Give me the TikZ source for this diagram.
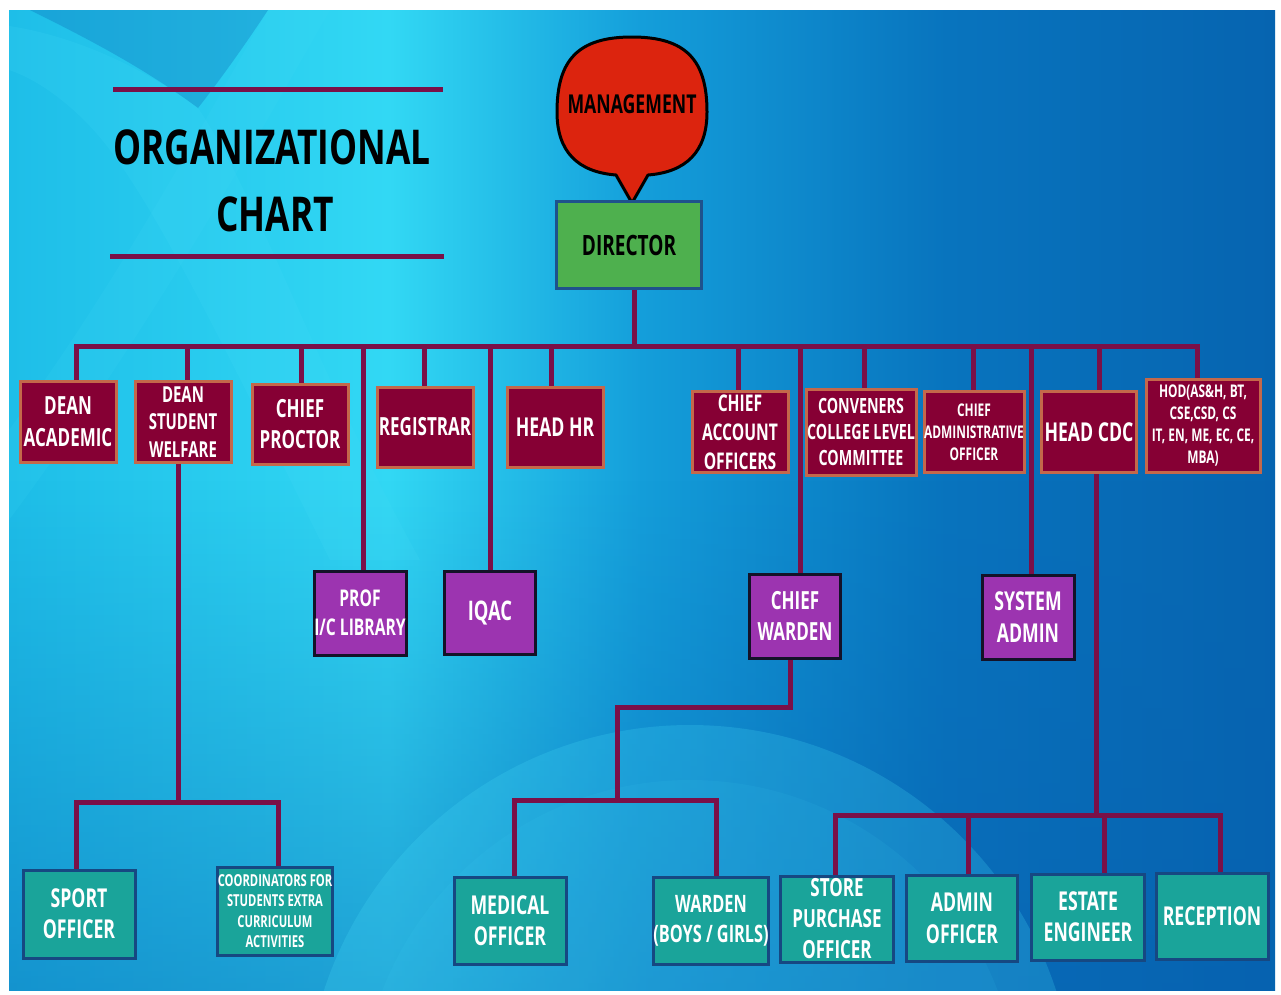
\documentclass[tikz,border=0pt]{standalone}
\usepackage{fontspec}
\newfontfamily\cf{Open Sans}[FakeStretch=0.68]
\newfontfamily\cft{Open Sans}[FakeStretch=0.735]
\usetikzlibrary{calc,fadings}
\definecolor{conncol}{RGB}{122,16,72}
\definecolor{topfill}{RGB}{134,0,52}
\definecolor{topbd}{RGB}{196,104,74}
\definecolor{midfill}{RGB}{156,52,176}
\definecolor{midbd}{RGB}{20,18,40}
\definecolor{botfill}{RGB}{26,164,154}
\definecolor{botbd}{RGB}{22,72,130}
\definecolor{dirfill}{RGB}{78,176,78}
\definecolor{dirbd}{RGB}{30,82,140}
\definecolor{mgmt}{RGB}{220,36,14}
\definecolor{bga}{RGB}{30,190,232}
\definecolor{bgb}{RGB}{50,216,244}
\definecolor{bgc}{RGB}{20,158,218}
\definecolor{bgd}{RGB}{8,116,190}
\definecolor{bge}{RGB}{6,100,176}
\definecolor{bgdark}{RGB}{8,96,176}
\definecolor{bglight}{RGB}{70,220,248}
\pgfdeclarehorizontalshading{bgshade}{100bp}{color(0bp)=(bga); color(25bp)=(bga); color(40bp)=(bgb); color(50bp)=(bgc); color(62bp)=(bgd); color(75bp)=(bge); color(100bp)=(bge)}
\newcommand\fsz[2]{\bfseries\fontsize{#1}{#2}\selectfont}
\tikzset{
  conn/.style={draw=conncol, line width=5pt, line join=miter},
  box/.style={rectangle, line width=3pt, inner sep=0pt, align=center, text=white, font=\cf\bfseries},
  toprow/.style={box, draw=topbd, fill=topfill},
  midrow/.style={box, draw=midbd, fill=midfill},
  botrow/.style={box, draw=botbd, fill=botfill},
}
\begin{document}
\begin{tikzpicture}[x=1pt,y=1pt]
\useasboundingbox (0,0) rectangle (1281,-994);
\fill[white] (0,0) rectangle (1281,-994);
\shade[shading=bgshade] (9,-10) rectangle (1275,-990);
% decorative background shapes
\begin{scope}
\clip (9,-10) rectangle (1275,-990);
\fill[bgdark, path fading=north, opacity=0.55] (9,-480) rectangle (1275,-1100);
\fill[bgdark, opacity=0.28] (30,-10) -- (268,-10) .. controls (245,-45) and (220,-80) .. (198,-108)
   .. controls (140,-65) and (80,-35) .. (30,-10) -- cycle;
\fill[bglight, opacity=0.16] (9,-26) .. controls (70,-35) and (140,-65) .. (198,-108)
   .. controls (260,-200) and (320,-380) .. (420,-560) -- (330,-560)
   .. controls (250,-400) and (170,-230) .. (110,-150) .. controls (80,-110) and (40,-80) .. (9,-70) -- cycle;
\fill[bglight, opacity=0.12] (268,-10) -- (330,-10) .. controls (250,-150) and (150,-330) .. (9,-520) -- (9,-430)
   .. controls (120,-280) and (210,-110) .. cycle;
\fill[bglight, opacity=0.22] (690,-1110) circle[radius=385];
\fill[bglight, opacity=0.08] (690,-1110) circle[radius=330];
\end{scope}

% title
\coordinate (tl1) at (113,-89); \coordinate (tr1) at (443,-89);
\coordinate (tl2) at (110,-256); \coordinate (tr2) at (444,-256);
\draw[conn] (tl1) -- (tr1);
\draw[conn] (tl2) -- (tr2);
\node[font=\cft\fsz{48}{48}, text=black] (t1) at (272,-147) {ORGANIZATIONAL};
\node[font=\cft\fsz{48}{48}, text=black] (t2) at (275,-214) {CHART};

% management bubble
\draw[fill=mgmt, draw=black, line width=3pt, line join=round]
  (648,-175) -- (632,-203) -- (616,-175)
  .. controls (578,-172) and (557,-152) .. (557,-112)
  .. controls (557,-60) and (578,-37) .. (632,-37)
  .. controls (686,-37) and (707,-60) .. (707,-112)
  .. controls (707,-152) and (686,-172) .. (648,-175) -- cycle;
\node[font=\cf\fsz{26}{26}, text=black] (mg) at (632,-104) {MANAGEMENT};
\node[box, draw=dirbd, fill=dirfill, text=black, minimum width=145pt, minimum height=87pt, font=\cf\fsz{28}{28}] (dir) at (629,-245) {DIRECTOR};

% top row
\node[toprow, minimum width=96pt, minimum height=81pt, font=\cf\fsz{25}{32}] (da) at (68,-422) {DEAN\\ACADEMIC};
\node[toprow, minimum width=96pt, minimum height=81pt, font=\cf\fsz{22}{27.5}] (dsw) at (183,-422) {DEAN\\STUDENT\\WELFARE};
\node[toprow, minimum width=96pt, minimum height=80pt, font=\cf\fsz{25}{31}] (cp) at (300,-424) {CHIEF\\PROCTOR};
\node[toprow, minimum width=96pt, minimum height=80pt, font=\cf\fsz{25}{30}] (reg) at (425,-427) {REGISTRAR};
\node[toprow, minimum width=96pt, minimum height=80pt, font=\cf\fsz{26}{30}] (hhr) at (555,-427) {HEAD HR};
\node[toprow, minimum width=96pt, minimum height=81pt, font=\cf\fsz{23}{29}] (cao) at (740,-432) {CHIEF\\ACCOUNT\\OFFICERS};
\node[toprow, minimum width=110pt, minimum height=86pt, font=\cf\fsz{21}{26}] (conv) at (861,-432) {CONVENERS\\COLLEGE LEVEL\\COMMITTEE};
\node[toprow, minimum width=100pt, minimum height=81pt, font=\cf\fsz{17.5}{22}] (cado) at (974,-432) {CHIEF\\ADMINISTRATIVE\\OFFICER};
\node[toprow, minimum width=95pt, minimum height=81pt, font=\cf\fsz{26}{30}] (hcdc) at (1089,-432) {HEAD CDC};
\node[toprow, minimum width=114pt, minimum height=93pt, font=\cf\fsz{17.5}{22}] (hod) at (1203,-426) {HOD(AS\&H, BT,\\CSE,CSD, CS\\IT, EN, ME, EC, CE,\\MBA)};

% middle row
\node[midrow, minimum width=92pt, minimum height=84pt, font=\cf\fsz{23}{29}] (lib) at (360,-613) {PROF\\I/C LIBRARY};
\node[midrow, minimum width=91pt, minimum height=83pt, font=\cf\fsz{27}{30}] (iqac) at (490,-613) {IQAC};
\node[midrow, minimum width=91pt, minimum height=84pt, font=\cf\fsz{25}{31}] (cw) at (795,-616) {CHIEF\\WARDEN};
\node[midrow, minimum width=92pt, minimum height=84pt, font=\cf\fsz{26}{32}] (sa) at (1028,-617) {SYSTEM\\ADMIN};

% bottom row
\node[botrow, minimum width=112pt, minimum height=88pt, font=\cf\fsz{26}{31}] (so) at (79,-914) {SPORT\\OFFICER};
\node[botrow, minimum width=113pt, minimum height=88pt, font=\cf\fsz{16.5}{20.5}] (coord) at (275,-911) {COORDINATORS FOR\\STUDENTS EXTRA\\CURRICULUM\\ACTIVITIES};
\node[botrow, minimum width=112pt, minimum height=87pt, font=\cf\fsz{26}{31}] (mo) at (510,-921) {MEDICAL\\OFFICER};
\node[botrow, minimum width=112pt, minimum height=87pt, font=\cf\fsz{24}{30}] (wd) at (711,-921) {WARDEN\\(BOYS / GIRLS)};
\node[botrow, minimum width=113pt, minimum height=86pt, font=\cf\fsz{25}{31}] (sp) at (837,-919) {STORE\\PURCHASE\\OFFICER};
\node[botrow, minimum width=111pt, minimum height=86pt, font=\cf\fsz{26}{32}] (ao) at (962,-918) {ADMIN\\OFFICER};
\node[botrow, minimum width=113pt, minimum height=86pt, font=\cf\fsz{26}{31}] (ee) at (1088,-917) {ESTATE\\ENGINEER};
\node[botrow, minimum width=112pt, minimum height=86pt, font=\cf\fsz{26}{30}] (rec) at (1212,-916) {RECEPTION};

% main bus
\coordinate (busL) at (76,-346);
\coordinate (busR) at (1197,-346);
\coordinate (jdir) at (634,-346);
\draw[conn] (dir.south -| jdir) -- (jdir);
\draw[conn] (da.north -| busL) -- (busL) -- (busR) -- (hod.north -| busR);
\coordinate (j2) at (187,-346);
\coordinate (j3) at (301,-346);
\coordinate (j4) at (363,-346);
\coordinate (j5) at (424,-346);
\coordinate (j6) at (490,-346);
\coordinate (j7) at (551,-346);
\coordinate (j8) at (738,-346);
\coordinate (j9) at (800,-346);
\coordinate (j10) at (864,-346);
\coordinate (j11) at (973,-346);
\coordinate (j12) at (1031,-346);
\coordinate (j13) at (1099,-346);
\draw[conn] (j2) -- (j2 |- dsw.north);
\draw[conn] (j3) -- (j3 |- cp.north);
\draw[conn] (j4) -- (j4 |- lib.north);
\draw[conn] (j5) -- (j5 |- reg.north);
\draw[conn] (j6) -- (j6 |- iqac.north);
\draw[conn] (j7) -- (j7 |- hhr.north);
\draw[conn] (j8) -- (j8 |- cao.north);
\draw[conn] (j9) -- (j9 |- cw.north);
\draw[conn] (j10) -- (j10 |- conv.north);
\draw[conn] (j11) -- (j11 |- cado.north);
\draw[conn] (j12) -- (j12 |- sa.north);
\draw[conn] (j13) -- (j13 |- hcdc.north);

% dean student welfare branch
\coordinate (dswb) at (178,-802);
\coordinate (sb1) at (76,-802);
\coordinate (sb2) at (278,-802);
\draw[conn] (dswb |- dsw.south) -- (dswb);
\draw[conn] (so.north -| sb1) -- (sb1) -- (sb2) -- (coord.north -| sb2);

% chief warden branch
\coordinate (cw1) at (790,-707);
\coordinate (cw2) at (617,-707);
\coordinate (mb) at (617,-800);
\coordinate (mb1) at (514,-800);
\coordinate (mb2) at (716,-800);
\draw[conn] (cw1 |- cw.south) -- (cw1) -- (cw2) -- (mb);
\draw[conn] (mo.north -| mb1) -- (mb1) -- (mb2) -- (wd.north -| mb2);

% head cdc branch
\coordinate (cdcb) at (1096,-815);
\coordinate (eb1) at (835,-815);
\coordinate (eb2) at (968,-815);
\coordinate (eb3) at (1104,-815);
\coordinate (eb4) at (1220,-815);
\draw[conn] (cdcb |- hcdc.south) -- (cdcb);
\draw[conn] (sp.north -| eb1) -- (eb1) -- (eb4) -- (rec.north -| eb4);
\draw[conn] (eb2) -- (eb2 |- ao.north);
\draw[conn] (eb3) -- (eb3 |- ee.north);
\end{tikzpicture}
\end{document}
